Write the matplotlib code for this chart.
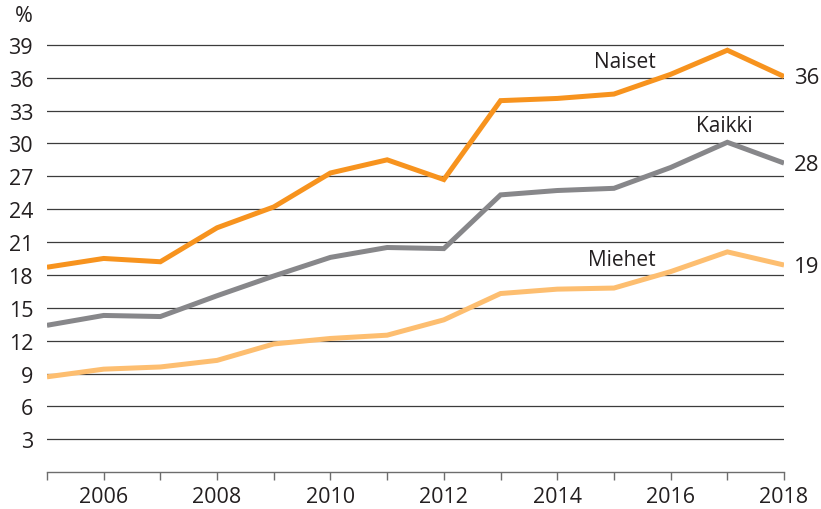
import numpy as np
import matplotlib.pyplot as plt

plt.rcParams['font.family'] = ['Open Sans', 'DejaVu Sans']

years = np.arange(2005, 2019)
naiset = [18.7, 19.5, 19.2, 22.3, 24.2, 27.3, 28.5, 26.7, 33.9, 34.1, 34.5, 36.3, 38.5, 36.1]
kaikki = [13.4, 14.3, 14.2, 16.1, 17.9, 19.6, 20.5, 20.4, 25.3, 25.7, 25.9, 27.8, 30.1, 28.2]
miehet = [8.7, 9.4, 9.6, 10.2, 11.7, 12.2, 12.5, 13.9, 16.3, 16.7, 16.8, 18.3, 20.1, 18.9]
end_labels = ["36", "28", "19"]
yticks = np.arange(3, 40, 3)

text_col = "#231f20"
fig = plt.figure(figsize=(8.21, 5.10), dpi=100)
ax = fig.add_axes([0.0572, 0.0722, 0.8978, 0.8596])

for y in yticks:
    ax.axhline(y, color="#3c3c3c", lw=0.9, zorder=1)

series = [(naiset, "#f7931e", "Naiset", (2015.2, 37.5)),
          (kaikki, "#87878a", "Kaikki", (2016.94, 31.6)),
          (miehet, "#fdbe70", "Miehet", (2015.14, 19.45))]
for (vals, col, name, pos), lab in zip(series, end_labels):
    ax.plot(years, vals, color=col, lw=3.6, solid_capstyle="butt",
            solid_joinstyle="miter", zorder=3)
    ax.text(pos[0], pos[1], name, ha="center", va="center", fontsize=15, color=text_col)
    ax.annotate(lab, (years[-1], vals[-1]), xytext=(7, -1), textcoords="offset points",
                ha="left", va="center", fontsize=16, color=text_col, annotation_clip=False)

ax.set_xlim(2005, 2018)
ax.set_ylim(0, 40)
ax.set_xticks(years)
ax.set_xticklabels([str(y) if y % 2 == 0 else "" for y in years])
ax.set_yticks(yticks)
ax.tick_params(axis="x", length=6, width=1, color="#6d6d6d", pad=4, labelsize=15.5, labelcolor=text_col)
ax.tick_params(axis="y", length=0, pad=10, labelsize=15.5, labelcolor=text_col)
for s in ["top", "right", "left"]:
    ax.spines[s].set_visible(False)
ax.spines["bottom"].set_color("#6d6d6d")
ax.spines["bottom"].set_linewidth(1)

fig.text(24 / 821, 1 - 17 / 510, "%", ha="center", va="center", fontsize=15.5, color=text_col)

plt.savefig("out.png", dpi=100)
